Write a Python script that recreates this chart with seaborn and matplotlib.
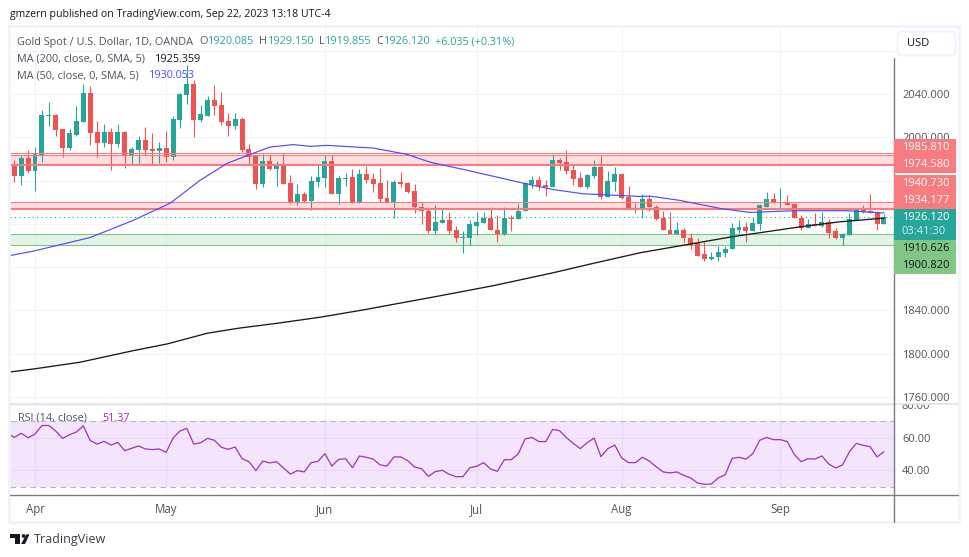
import numpy as np
import pandas as pd
import seaborn as sns
import matplotlib
matplotlib.use("Agg")
import matplotlib.pyplot as plt
from matplotlib.patches import Rectangle, FancyBboxPatch, Circle, Polygon
from matplotlib.transforms import Bbox

opens = [1974.5,1964.0,1980.7,1968.6,1983.8,2019.9,2020.5,2007.6,1990.0,2002.6,2014.0,2040.9,2004.8,1994.6,2004.8,1993.6,2004.8,1982.5,1988.1,1997.4,1989.0,1987.2,1990.0,1981.6,2015.9,2039.1,2049.9,2015.9,2020.2,2034.4,2029.8,2015.0,2010.3,2016.8,1989.0,1982.5,1956.6,1977.9,1970.5,1975.1,1957.5,1939.9,1947.3,1941.4,1958.4,1962.1,1977.9,1947.3,1961.2,1963.0,1938.9,1965.8,1961.2,1957.5,1943.6,1939.9,1958.4,1957.5,1950.1,1936.1,1932.4,1913.0,1920.4,1923.2,1913.9,1906.5,1907.4,1918.5,1920.4,1925.9,1914.8,1910.2,1925.9,1924.1,1931.5,1956.5,1960.3,1955.6,1953.8,1978.8,1976.9,1969.5,1962.1,1953.8,1964.0,1972.3,1944.5,1958.4,1965.8,1944.5,1934.6,1933.4,1942.6,1936.1,1925.0,1914.8,1911.1,1913.9,1907.4,1901.9,1891.7,1887.9,1888.9,1893.5,1896.3,1914.8,1916.7,1913.0,1919.5,1936.1,1942.6,1939.2,1940.2,1938.0,1925.9,1915.8,1919.5,1918.5,1922.2,1913.0,1907.4,1909.3,1923.2,1933.4,1931.5,1930.6,1920.085]
highs = [1978.8,1984.1,1988.1,1991.2,2025.2,2032.6,2021.8,2008.0,2007.6,2028.9,2049.3,2047.4,2015.0,2012.2,2008.5,2012.2,2005.7,1991.2,2001.7,2009.4,2003.8,1995.5,2005.7,2019.6,2040.9,2066.9,2053.0,2029.8,2038.1,2048.3,2041.9,2022.4,2022.4,2018.7,1993.7,1983.5,1984.4,1983.5,1977.9,1985.3,1964.9,1957.2,1949.2,1964.0,1975.1,1983.4,1983.4,1964.0,1966.7,1970.4,1970.4,1973.2,1966.7,1971.4,1960.3,1960.3,1967.7,1958.4,1956.5,1939.9,1935.2,1937.1,1933.4,1930.6,1917.6,1913.0,1923.2,1930.6,1930.6,1935.2,1927.8,1935.2,1927.8,1938.0,1958.4,1964.0,1964.0,1960.3,1984.4,1980.6,1988.1,1974.2,1967.7,1965.8,1978.8,1982.5,1968.6,1972.3,1965.8,1954.7,1938.9,1947.3,1946.3,1937.1,1932.4,1930.6,1921.3,1915.8,1912.0,1907.4,1903.7,1894.4,1899.1,1899.1,1920.4,1923.2,1921.3,1925.9,1938.0,1949.1,1948.2,1952.8,1946.3,1938.0,1928.7,1924.1,1929.7,1930.6,1924.1,1915.8,1912.0,1929.7,1934.3,1937.1,1947.3,1931.5,1929.15]
lows = [1958.4,1955.7,1967.1,1950.1,1977.0,2010.3,2001.4,1981.9,1988.7,2001.1,2014.0,1992.7,1981.9,1991.2,1969.6,1990.9,1971.7,1974.2,1976.0,1983.5,1974.2,1976.0,1977.0,1978.8,2008.5,2030.7,2000.1,2014.0,2019.6,2020.5,2011.3,2001.1,2007.6,1986.2,1975.1,1951.9,1954.1,1969.6,1954.7,1956.6,1938.0,1937.1,1940.2,1932.5,1953.8,1953.8,1947.3,1938.0,1954.7,1938.9,1938.9,1957.5,1949.1,1939.9,1939.9,1925.3,1953.8,1948.2,1929.7,1919.5,1912.0,1910.2,1920.4,1910.2,1902.8,1892.6,1900.9,1909.9,1920.4,1913.9,1902.8,1909.3,1913.0,1924.1,1931.5,1952.8,1951.0,1945.4,1953.8,1969.5,1965.8,1955.6,1953.8,1951.9,1962.1,1942.6,1944.5,1950.1,1942.6,1933.4,1929.7,1925.6,1931.5,1923.2,1913.9,1911.1,1911.1,1902.8,1896.3,1890.7,1885.2,1887.0,1885.2,1888.9,1896.3,1912.0,1903.7,1913.0,1914.8,1935.2,1938.9,1934.6,1937.1,1925.0,1914.8,1915.8,1917.6,1916.7,1907.4,1905.6,1900.9,1909.3,1923.2,1929.7,1929.7,1913.9,1919.855]
closes = [1964.0,1980.7,1968.6,1984.4,2020.5,2020.5,2006.6,1990.0,2003.9,2015.0,2040.9,2003.9,1994.6,2004.8,1993.6,2004.8,1982.5,1989.0,1997.4,1988.1,1987.2,1990.0,1981.6,2016.8,2040.0,2049.9,2015.9,2021.5,2034.4,2028.9,2014.0,2010.3,2016.8,1988.1,1981.9,1956.6,1977.9,1970.5,1975.1,1956.6,1939.9,1947.3,1941.4,1959.4,1963.1,1977.9,1947.3,1962.1,1962.7,1938.9,1965.8,1960.3,1956.5,1942.6,1939.9,1958.4,1956.5,1949.1,1935.2,1931.5,1913.0,1921.3,1923.2,1913.0,1906.5,1908.3,1919.5,1921.3,1925.9,1913.9,1910.2,1925.9,1924.1,1932.4,1957.5,1960.3,1954.7,1953.8,1978.8,1976.0,1968.6,1961.2,1953.8,1964.9,1972.3,1944.5,1959.3,1965.8,1943.6,1933.4,1933.7,1942.6,1935.2,1924.1,1913.9,1911.1,1913.9,1906.5,1900.9,1890.7,1887.9,1889.8,1894.4,1897.2,1915.8,1916.7,1913.0,1920.4,1937.1,1942.6,1938.9,1940.2,1937.1,1925.0,1915.8,1919.5,1917.6,1922.2,1912.0,1907.4,1910.2,1924.1,1933.4,1930.6,1929.7,1919.5,1926.12]

rsi_values = [62.7,60.2,62.7,60.0,62.2,67.5,67.5,64.1,59.6,61.8,63.5,67.3,58.2,56.1,57.8,55.5,57.1,52.0,53.5,54.9,53.1,52.7,53.1,51.0,59.8,64.1,65.7,56.1,56.9,59.6,58.4,54.1,52.9,54.3,47.1,45.3,39.8,45.7,44.5,45.3,41.4,37.7,39.8,39.0,44.7,45.5,50.2,42.6,46.7,47.1,41.6,48.8,48.0,46.9,43.3,42.6,48.2,48.2,45.9,42.0,41.0,36.3,39.2,40.0,37.6,36.1,36.1,41.6,42.5,44.7,40.8,39.4,46.5,46.5,50.0,59.2,60.2,57.6,57.6,65.1,64.3,60.0,56.5,53.3,56.9,59.8,48.4,53.3,55.5,47.6,44.7,44.7,48.0,45.7,42.2,39.0,38.4,39.0,36.9,35.3,32.2,31.4,31.6,35.3,37.3,47.3,48.0,46.9,50.2,58.4,60.2,58.8,58.8,57.6,49.8,45.3,47.1,46.9,48.8,43.9,41.4,43.3,51.4,56.5,55.3,54.5,48.2,51.37]

ma50_days = [-0.6,2.7,11,17.2,22.6,26.9,30.8,34.6,37,40.4,42.9,45.3,52,56.9,60.2,65,73.7,78,82.4,90.7,92.1,96.5,102.3,106.6,112.9,120.7,126]
ma50_values = [1890.7,1894.7,1907.4,1923.2,1939.2,1960.3,1976.0,1985.3,1991.1,1993.4,1991.8,1992.7,1990.2,1984.4,1977.2,1970.5,1957.8,1951.9,1947.9,1945.4,1945.7,1941.7,1934.3,1930.6,1932.2,1932.2,1930.053]
ma200_days = [-0.6,2.7,9.5,17.2,22.1,25.0,27.9,30.2,32.7,38.1,44.3,50.5,61.3,69.4,78.1,83.9,90.7,104,114,119.7,126]
ma200_values = [1782.9,1785.6,1791.9,1802.6,1808.8,1813.7,1818.7,1821.1,1823.6,1828.0,1833.6,1840.3,1853.0,1862.8,1874.8,1883.5,1893.3,1908.1,1917.4,1922.0,1925.359]

resistance_levels = [1985.81, 1974.58, 1940.73, 1934.177]
support_levels = [1910.626, 1900.82]
last_price = 1926.12

price_ticks = [2080, 2040, 2000, 1960, 1920, 1880, 1840, 1800, 1760]
price_labels = ["", "2040.000", "2000.000", "", "", "", "1840.000", "1800.000", "1760.000"]
rsi_ticks = [40, 60, 80]
rsi_labels = ["40.00", "60.00", "80.00"]
month_days = [3, 22, 45, 67, 88, 111]
month_labels = ["Apr", "May", "Jun", "Jul", "Aug", "Sep"]

GREEN, RED = "#26a69a", "#ef5350"
GRID = "#f0f3fa"
AXIS = "#787b86"
LABEL = "#50535e"
PINK = "#f77c80"
ZONE_G = "#81c784"
PURPLE = "#9c27b0"
FONT = "Open Sans"

sns.set_theme(style="white")
plt.rcParams["font.family"] = [FONT, "DejaVu Sans"]

W, H = 970, 557
fig = plt.figure(figsize=(W / 100, H / 100), dpi=100, facecolor="white")


def box(l, t, r, b):
    return [l / W, 1 - b / H, (r - l) / W, (b - t) / H]


ax = fig.add_axes(box(10, 27, 894.3, 403.3))
rx = fig.add_axes(box(10, 404.5, 894.3, 494.3))
xlim = (-0.623, 127.5)

# --- price pane ---
days = np.arange(len(opens))
o, h, l, c = map(np.array, (opens, highs, lows, closes))
cols = np.where(c >= o, GREEN, RED)
ax.vlines(days, l, h, colors=cols, lw=0.8, zorder=3)
ax.bar(days, np.abs(c - o), bottom=np.minimum(o, c), width=0.72, color=cols, lw=0, zorder=4)

ax.axhspan(1983.9, resistance_levels[1], color=PINK, alpha=0.24, lw=0, zorder=2)
ax.axhspan(resistance_levels[3], resistance_levels[2], color=PINK, alpha=0.24, lw=0, zorder=2)
ax.axhspan(support_levels[1], support_levels[0], color=ZONE_G, alpha=0.2, lw=0, zorder=2)
for lvl, w in [(resistance_levels[0], 0.8), (1983.9, 0.8), (resistance_levels[1], 1.5),
               (resistance_levels[2], 0.8), (resistance_levels[3], 1.5)]:
    ax.axhline(lvl, color=PINK, lw=w, zorder=5)
for lvl in support_levels:
    ax.axhline(lvl, color=ZONE_G, lw=0.85, zorder=2.5)
ax.axhline(last_price, color=GREEN, lw=0.8, ls=(0, (1, 3)), zorder=2.6)

sns.lineplot(x=ma50_days, y=ma50_values, ax=ax, color="#4b4bff", lw=0.85, estimator=None, legend=False, zorder=6)
sns.lineplot(x=ma200_days, y=ma200_values, ax=ax, color="#1a1a1a", lw=0.95, estimator=None, legend=False, zorder=6)

ax.set_xlim(*xlim)
ax.set_ylim(1753.9, 2102.3)
ax.set_xticks(month_days)
ax.tick_params(axis="x", length=0, labelbottom=False)
ax.yaxis.tick_right()
ax.set_yticks(price_ticks, price_labels)
ax.tick_params(axis="y", length=0, pad=5.5, labelsize=8, labelcolor=LABEL)
ax.grid(True, color=GRID, lw=0.75)
ax.set_axisbelow(True)
ax.set_xlabel("")
ax.set_ylabel("")
for s in ax.spines.values():
    s.set_visible(False)

# --- RSI pane ---
rsi_days = np.arange(-1, len(rsi_values) - 1)
rx.axhspan(30, 70, color="#9105eb", alpha=0.1, lw=0, zorder=1)
for v in (30, 70):
    rx.axhline(v, color="#b2b5be", lw=0.8, ls=(0, (5, 4)), zorder=2)
sns.lineplot(x=rsi_days, y=rsi_values, ax=rx, color="#a132b4", lw=0.9, estimator=None, legend=False, zorder=3)
rx.set_xlim(*xlim)
rx.set_ylim(25.28, 80.37)
rx.set_xticks(month_days, month_labels)
rx.tick_params(axis="x", length=0, pad=6.3, labelsize=8.3, labelcolor=LABEL)
rx.yaxis.tick_right()
rx.set_yticks(rsi_ticks, rsi_labels)
rx.tick_params(axis="y", length=0, pad=5.5, labelsize=8, labelcolor=LABEL)
rx.grid(True, color=GRID, lw=0.75, zorder=0)
rx.set_axisbelow(True)
rx.set_xlabel("")
rx.set_ylabel("")
for s in rx.spines.values():
    s.set_visible(False)
for t in rx.get_yticklabels():
    t.set_clip_box(Bbox([[895, H - 525], [W, H - 403.5]]))
    t.set_clip_on(True)
for t in rx.get_xticklabels():
    t.set_fontweight("medium")

# --- pixel overlay for the TradingView chrome ---
ov = fig.add_axes([0, 0, 1, 1], facecolor="none")
ov.set_xlim(0, W)
ov.set_ylim(H, 0)
ov.axis("off")

ov.add_patch(Rectangle((9.5, 26), 949.5, 496, fill=False, ec=GRID, lw=2))
ov.plot([10, 958], [403.6, 403.6], color="#e0e3eb", lw=1.2)
ov.plot([10, 958], [494.5, 494.5], color=AXIS, lw=1.0)
ov.plot([894.3, 894.3], [58, 522], color=AXIS, lw=1.0)
ov.add_patch(FancyBboxPatch((899, 33), 55, 21, boxstyle="round,pad=1.5,rounding_size=4",
                            fc="white", ec=GRID, lw=1.4))
ov.text(907, 43.5, "USD", fontsize=8, color="#131722", va="center")


def txt(x, y, s, color=LABEL, size=7.8, **kw):
    ov.text(x, y, s, color=color, fontsize=size, va="center", **kw)


txt(10, 15, "gmzern published on TradingView.com, Sep 22, 2023 13:18 UTC-4", "#131722", 7.6)
txt(17, 42, "Gold Spot / U.S. Dollar, 1D, OANDA", LABEL)
for x, s, col in [(199, "O", LABEL), (208, "1920.085", GREEN), (259, "H", LABEL), (268, "1929.150", GREEN),
                  (319, "L", LABEL), (325, "1919.855", GREEN), (376, "C", LABEL), (384, "1926.120", GREEN),
                  (435, "+6.035 (+0.31%)", GREEN)]:
    txt(x, 42, s, col)
txt(17, 59, "MA (200, close, 0, SMA, 5)", LABEL)
txt(155, 59, "1925.359", "#131722")
txt(17, 75.5, "MA (50, close, 0, SMA, 5)", LABEL)
txt(149, 75.5, "1930.053", "#4b4bff")
txt(18, 418.5, "RSI (14, close)", LABEL)
txt(102, 418.5, "51.37", PURPLE)

for top, bot, col in [(139, 173, PINK), (175, 208.7, PINK), (209, 240, GREEN), (240, 274, ZONE_G)]:
    ov.add_patch(Rectangle((894.5, top), 61.2, bot - top, fc=col, ec="none", zorder=5))
tags = [(147.7, f"{resistance_levels[0]:.3f}", "white"), (164.7, f"{resistance_levels[1]:.3f}", "white"),
        (183.7, f"{resistance_levels[2]:.3f}", "white"), (200.7, f"{resistance_levels[3]:.3f}", "white"),
        (217.7, f"{last_price:.3f}", "white"), (231.7, "03:41:30", "#d4eeeb"),
        (248.7, f"{support_levels[0]:.3f}", "#131722"), (265.7, f"{support_levels[1]:.3f}", "#131722")]
for y, s, col in tags:
    ov.text(902, y, s, color=col, fontsize=8, va="center", fontweight="medium", zorder=6)

# TradingView logo
dark = "#131722"
ov.add_patch(Rectangle((10, 534.3), 10.5, 3.2, fc=dark, ec="none"))
ov.add_patch(Rectangle((15, 534.3), 5.5, 9.7, fc=dark, ec="none"))
ov.add_patch(Circle((23.6, 536), 1.9, fc=dark, ec="none"))
ov.add_patch(Polygon([(29.5, 534.3), (26.5, 534.3), (21, 544), (25, 544)], fc=dark, ec="none"))
txt(33.5, 539.5, "TradingView", "#3a3e4a", 9.0)

fig.savefig("out.png", dpi=100)
